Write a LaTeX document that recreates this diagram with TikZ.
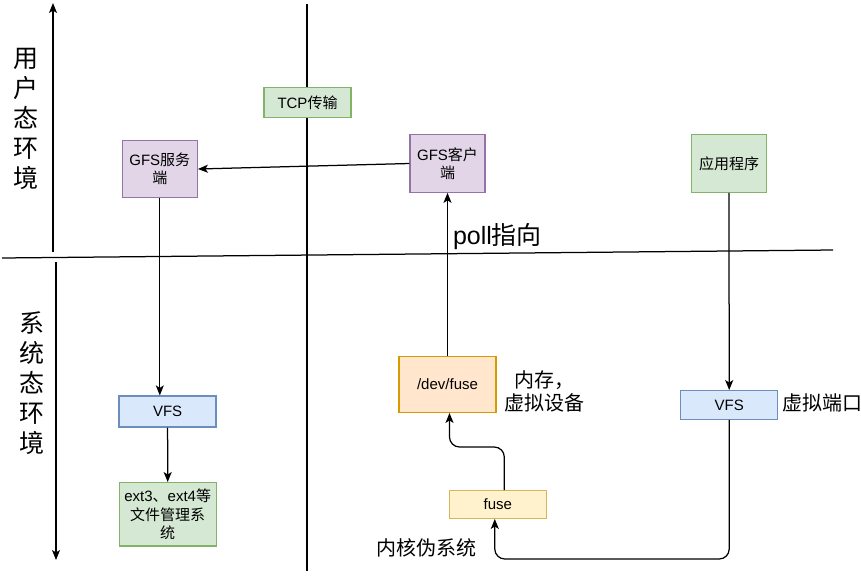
\documentclass[tikz,border=0pt]{standalone}
\usepackage{fontspec}
\setmainfont{Liberation Sans}
\newfontfamily\cjk{Noto Sans CJK SC}
\usetikzlibrary{arrows.meta}
\definecolor{gfill}{HTML}{D5E8D4}\definecolor{gline}{HTML}{82B366}
\definecolor{pfill}{HTML}{E1D5E7}\definecolor{pline}{HTML}{9673A6}
\definecolor{bfill}{HTML}{DAE8FC}\definecolor{bline}{HTML}{6C8EBF}
\definecolor{ofill}{HTML}{FFE6CC}\definecolor{oline}{HTML}{D79B00}
\definecolor{yfill}{HTML}{FFF2CC}\definecolor{yline}{HTML}{D6B656}
\begin{document}
\begin{tikzpicture}[x=1pt,y=-1pt,
  box/.style={draw, line width=1.25pt, inner sep=0pt, align=center,
    font=\fontsize{15}{18.5}\selectfont},
  gbox/.style={box, fill=gfill, draw=gline},
  pbox/.style={box, fill=pfill, draw=pline},
  bbox/.style={box, fill=bfill, draw=bline},
  obox/.style={box, fill=ofill, draw=oline},
  ybox/.style={box, fill=yfill, draw=yline},
  conn/.style={draw=black, line width=1.25pt, -{Stealth[length=10pt,width=8pt,inset=2.5pt]}},
  plain/.style={draw=black, line width=1.25pt},
  big/.style={inner sep=0pt, align=center, font=\fontsize{25}{30}\selectfont},
  mid/.style={inner sep=0pt, align=center, font=\fontsize{20}{23}\selectfont}]
\useasboundingbox (0,0) rectangle (861,576);

% frame lines
\coordinate (ua1) at (53,252); \coordinate (ua2) at (53,3);
\coordinate (da1) at (56,262); \coordinate (da2) at (56,560);
\coordinate (sepL) at (2,258); \coordinate (sepR) at (833,250);
\coordinate (vt) at (307,4); \coordinate (vb) at (307,571);
\draw[conn] (ua1) -- (ua2);
\draw[conn] (da1) -- (da2);
\draw[plain] (sepL) -- (sepR);
\draw[plain] (vt) -- (vb);

% side labels
\node[big] (user) at (25.5,119) {\cjk 用\\\cjk 户\\\cjk 态\\\cjk 环\\\cjk 境};
\node[big] (sys) at (31.7,383.5) {\cjk 系\\\cjk 统\\\cjk 态\\\cjk 环\\\cjk 境};

% boxes
\node[gbox, minimum width=87pt, minimum height=29.5pt] (tcp) at (307.5,102.5) {TCP{\cjk 传输}};
\node[pbox, minimum width=75pt, minimum height=57.5pt] (srv) at (159.8,169) {GFS{\cjk 服务}\\{\cjk 端}};
\node[pbox, minimum width=75pt, minimum height=57.5pt] (cli) at (447.5,163.5) {GFS{\cjk 客户}\\{\cjk 端}};
\node[gbox, minimum width=74.6pt, minimum height=57.5pt] (app) at (729,163.5) {{\cjk 应用程序}};
\node[bbox, minimum width=97pt, minimum height=31pt] (vfsL) at (167.6,411.5) {VFS};
\node[gbox, minimum width=97pt, minimum height=63.3pt] (ext) at (167.7,514.3) {ext3{\cjk 、}ext4{\cjk 等}\\{\cjk 文件管理系}\\{\cjk 统}};
\node[obox, minimum width=97pt, minimum height=55.6pt] (dev) at (447.5,384.5) {/dev/fuse};
\node[ybox, minimum width=97pt, minimum height=27.6pt] (fuse) at (497.8,504.5) {fuse};
\node[bbox, minimum width=97pt, minimum height=28.6pt] (vfsR) at (729.2,405) {VFS};

% free labels
\node[big, font=\fontsize{25}{30}\selectfont] (poll) at (497.5,236.5) {poll{\cjk 指向}};
\node[mid] (mem) at (544,391) {{\cjk 内存，}\\{\cjk 虚拟设备}};
\node[mid, anchor=west] (port) at (782,403) {\cjk 虚拟端口};
\node[mid] (kern) at (426.5,547.5) {\cjk 内核伪系统};

% connectors
\coordinate (turn1) at (0,447);
\coordinate (turn2) at (0,559);
\draw[conn] (cli.west) -- (srv.east);
\draw[conn] (srv.south) -- (srv.south |- vfsL.north);
\draw[conn] (vfsL.south) -- (ext.north);
\draw[conn] (dev.north) -- (cli.south);
\draw[conn] (app.south) -- (vfsR.north);
\draw[conn, rounded corners=10pt] ([xshift=6.5pt]fuse.north) -- ([xshift=6.5pt]fuse.north |- turn1) -- ([xshift=2pt]dev.south |- turn1) -- ([xshift=2pt]dev.south);
\draw[conn, rounded corners=10pt] (vfsR.south) -- (vfsR.south |- turn2) -- ([xshift=-3pt]fuse.south |- turn2) -- ([xshift=-3pt]fuse.south);
\end{tikzpicture}
\end{document}
